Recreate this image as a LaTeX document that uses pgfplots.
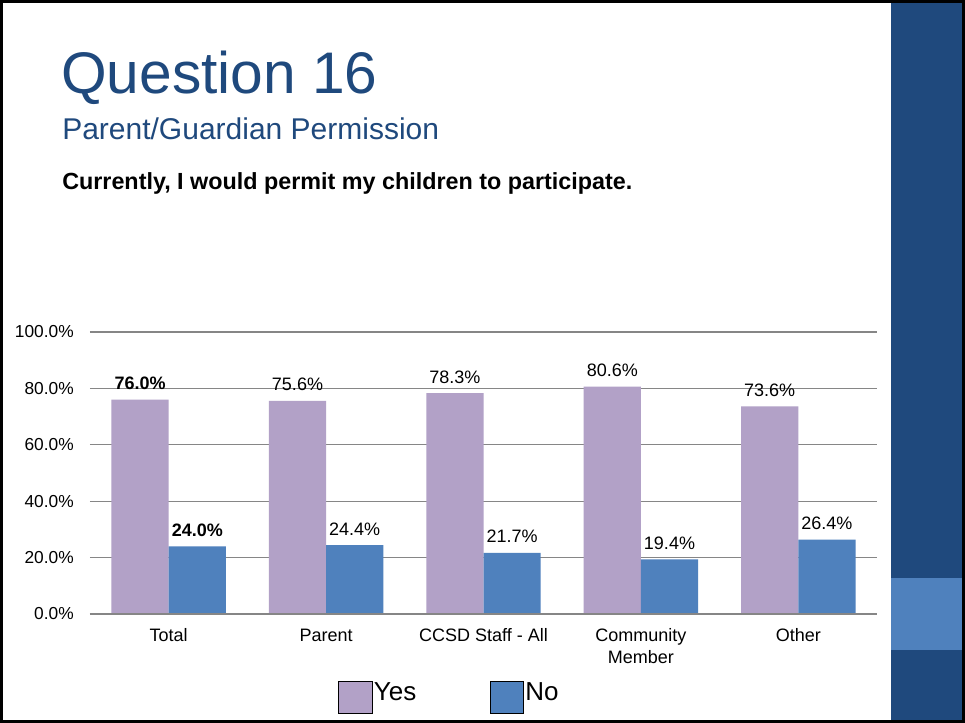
\documentclass[border=0pt]{standalone}
\usepackage{pgfplots}
\pgfplotsset{compat=1.18}
\usepackage{fontspec}
\setmainfont{Liberation Sans}

\definecolor{slideblue}{RGB}{31,73,125}
\definecolor{accentblue}{RGB}{79,129,189}
\definecolor{yescol}{RGB}{178,161,199}
\definecolor{nocol}{RGB}{79,129,189}
\definecolor{gridcol}{RGB}{134,134,134}
\definecolor{vgA}{gray}{1}
\definecolor{vgB}{gray}{0.94}
\definecolor{vgC}{gray}{0.83}

\pgfdeclareradialshading{vign}{\pgfpoint{0bp}{0bp}}{color(0bp)=(vgA); color(48bp)=(vgA); color(75bp)=(vgB); color(100bp)=(vgC)}

\begin{document}
\begin{tikzpicture}[x=0.75pt,y=0.75pt]
% slide background (1 unit = 1 px of the reference, y upwards)
\useasboundingbox (0,0) rectangle (965,723);
\fill[white] (0,0) rectangle (965,723);
\begin{scope}
  \clip (3,3) rectangle (891,720);
  \shade[shading=vign] (-181,-145) rectangle (1075,868);
\end{scope}
\fill[slideblue] (891,3) rectangle (962,720);
\fill[accentblue] (891,73) rectangle (962,145);
\draw[black, line width=2.25pt] (1.5,1.5) rectangle (963.5,721.5);

% titles
\node[anchor=base west, inner sep=0pt, text=slideblue, font=\fontsize{44}{50}\selectfont] at (61,629) {Question 16};
\node[anchor=base west, inner sep=0pt, text=slideblue, font=\fontsize{22.5}{26}\selectfont] at (62,583) {Parent/Guardian Permission};
\node[anchor=base west, inner sep=0pt, font=\bfseries\fontsize{17.5}{21}\selectfont] at (62,533.5) {Currently, I would permit my children to participate.};

\begin{axis}[
  at={(67.5pt,81.75pt)}, anchor=south west,
  scale only axis, width=590.25pt, height=211.5pt,
  xmin=-0.5, xmax=4.5, ymin=0, ymax=100,
  ybar=0pt, bar width=42.9pt,
  axis line style={draw=none},
  major tick length=0pt,
  ymajorgrids, grid style={gridcol, line width=0.8pt},
  ytick={0,20,40,60,80,100},
  yticklabels={0.0\%,20.0\%,40.0\%,60.0\%,80.0\%,100.0\%},
  yticklabel style={font=\fontsize{13}{15}\selectfont, anchor=east, inner sep=0pt, xshift=-12pt},
  xtick={0,1,2,3,4},
  xticklabels={Total,Parent,CCSD Staff - All,Community\\Member,Other},
  xticklabel style={font=\fontsize{13.5}{16.5}\selectfont, anchor=north, inner sep=0pt, yshift=-11pt, align=center},
  point meta=explicit symbolic,
  nodes near coords,
  every node near coord/.append style={font=\fontsize{13.5}{15}\selectfont, anchor=base, inner sep=0pt, yshift=7.5pt, text=black},
  legend image code/.code={\draw[#1, draw=black, line width=0.75pt] (0pt,-11.25pt) rectangle (25pt,12.75pt);},
  legend style={at={(axis description cs:0.3151,-0.298)}, anchor=west, draw=none, fill=none,
    legend columns=-1, inner sep=0pt, font=\fontsize{19.5}{22}\selectfont,
    nodes={inner sep=1pt},
    /tikz/every odd column/.append style={column sep=0pt},
    /tikz/every even column/.append style={column sep=54pt}},
]
\addplot[fill=yescol, draw=none] coordinates {
  (0,76.0) [\textbf{76.0\%}]
  (1,75.6) [75.6\%]
  (2,78.3) [78.3\%]
  (3,80.6) [80.6\%]
  (4,73.6) [73.6\%]
};
\addlegendentry{\raisebox{8.5pt}{Yes}}
\addplot[fill=nocol, draw=none] coordinates {
  (0,24.0) [\textbf{24.0\%}]
  (1,24.4) [24.4\%]
  (2,21.7) [21.7\%]
  (3,19.4) [19.4\%]
  (4,26.4) [26.4\%]
};
\addlegendentry{\raisebox{8.5pt}{No}}
\draw[gridcol, line width=1.5pt] (axis cs:-0.5,0) -- (axis cs:4.5,0);
\end{axis}
\end{tikzpicture}
\end{document}
